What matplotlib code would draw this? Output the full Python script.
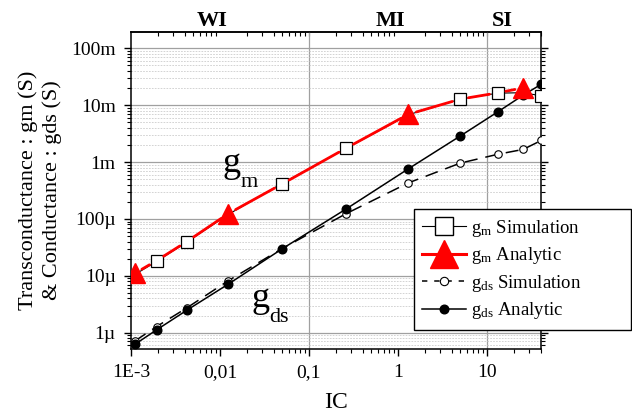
import matplotlib
matplotlib.use("Agg")
import matplotlib.pyplot as plt
from matplotlib.lines import Line2D
from matplotlib.ticker import FixedLocator, FixedFormatter, LogLocator, NullFormatter

plt.rcParams['font.family'] = ['Liberation Serif', 'DejaVu Serif']
plt.rcParams['mathtext.fontset'] = 'custom'
plt.rcParams['mathtext.rm'] = 'Liberation Serif'
plt.rcParams['mathtext.it'] = 'Liberation Serif:italic'

# Inversion coefficient sweep
IC = [0.0011, 0.00194, 0.00424, 0.0124, 0.0496, 0.262, 1.31, 5.02, 13.2, 25.5, 41.0]

# Transconductance gm (S)
gm_sim = [10.5e-6, 17.9e-6, 39.3e-6, 120e-6, 420e-6, 1.74e-3, 6.8e-3, 12.8e-3, 16.3e-3, 16.6e-3, 14.6e-3]
gm_ana = [11.0e-6, 18.5e-6, 40.0e-6, 124e-6, 410e-6, 1.76e-3, 6.93e-3, 12.8e-3, 16.5e-3, 20.2e-3]

# Output conductance gds (S)
gds_sim = [0.71e-6, 1.28e-6, 2.73e-6, 8.2e-6, 30e-6, 124e-6, 431e-6, 0.96e-3, 1.37e-3, 1.67e-3, 2.41e-3]
gds_ana = [0.62e-6, 1.12e-6, 2.48e-6, 7.14e-6, 29.6e-6, 150e-6, 762e-6, 2.88e-3, 7.62e-3, 15.0e-3, 23.5e-3]

# Axis ticks and labels
x_ticks = [1e-3, 1e-2, 1e-1, 1, 10]
x_tick_labels = ['1E-3', '0,01', '0,1', '1', '10']
y_ticks = [1e-6, 1e-5, 1e-4, 1e-3, 1e-2, 1e-1]
y_tick_labels = ['1µ', '10µ', '100µ', '1m', '10m', '100m']

# Inversion regions (weak / moderate / strong)
region_names = ['WI', 'MI', 'SI']
region_label_x = [0.0082, 0.82, 15.0]
region_bounds = [0.1, 10]

fig = plt.figure(figsize=(6.32, 4.13), dpi=100)
ax = fig.add_axes([131 / 632, 1 - 349 / 413, 410 / 632, 317 / 413])
ax.set_xscale('log')
ax.set_yscale('log')
ax.set_xlim(1e-3, 40.5)
ax.set_ylim(5.16e-7, 0.194)

# Grid
ax.yaxis.set_minor_locator(LogLocator(base=10, subs=range(2, 10), numticks=20))
ax.yaxis.set_minor_formatter(NullFormatter())
ax.grid(True, axis='y', which='major', color='#a0a0a0', lw=0.9, zorder=0)
ax.grid(True, axis='y', which='minor', color='#cccccc', lw=0.6,
        linestyle=(0, (2, 1.5)), zorder=0)
for b in region_bounds:
    ax.axvline(b, color='#a0a0a0', lw=0.9, zorder=0.5)

# Simulated points hidden under the analytic triangles carry no square
tri_idx = list(range(0, len(gm_ana), 3))
sq_idx = [i for i in range(len(IC)) if i not in tri_idx]

# gm simulation: thin black line with open squares
ax.plot(IC, gm_sim, color='black', lw=0.8, marker='s', ms=8.6,
        markevery=sq_idx, mfc='white', mec='black', mew=0.9, zorder=3)

# gm analytic: thick red segments leaving a gap around every point
for i in range(len(gm_ana) - 1):
    ax.annotate('', xy=(IC[i + 1], gm_ana[i + 1]), xytext=(IC[i], gm_ana[i]),
                xycoords='data', textcoords='data',
                arrowprops=dict(arrowstyle='-', color='red', lw=2.0,
                                shrinkA=6, shrinkB=6), zorder=3.5,
                annotation_clip=False)
ax.plot([IC[i] for i in tri_idx], [gm_ana[i] for i in tri_idx],
        linestyle='none', marker='^', ms=15, color='red', mec='red', zorder=4)

# gds simulation: dashed line with small open circles
ax.plot(IC, gds_sim, color='black', lw=1.1, linestyle=(0, (8.5, 5.2)),
        marker='o', ms=5.4, mfc='white', mec='black', mew=0.8, zorder=3)

# gds analytic: solid line with filled circles
ax.plot(IC, gds_ana, color='black', lw=1.1, marker='o', ms=6.2,
        mfc='black', mec='black', zorder=3.2)

# Ticks
ax.xaxis.set_major_locator(FixedLocator(x_ticks))
ax.xaxis.set_major_formatter(FixedFormatter(x_tick_labels))
ax.yaxis.set_major_locator(FixedLocator(y_ticks))
ax.yaxis.set_major_formatter(FixedFormatter(y_tick_labels))
ax.tick_params(axis='both', which='major', direction='out', length=5,
               width=1.0, labelsize=14, pad=6)
ax.tick_params(axis='both', which='minor', direction='out', length=3, width=0.8)
ax.tick_params(axis='y', which='both', right=True)
ax.tick_params(axis='x', which='both', top=False)
for s in ax.spines.values():
    s.set_linewidth(1.1)

sec = ax.secondary_xaxis('top')
sec.set_xticks(region_bounds)
sec.set_xticklabels([])
sec.tick_params(which='both', direction='in', length=3, width=0.8)
sec.xaxis.set_minor_formatter(NullFormatter())
sec.spines['top'].set_linewidth(1.1)

for name, xr in zip(region_names, region_label_x):
    ax.text(xr, 1.019, name, transform=ax.get_xaxis_transform(),
            ha='center', va='baseline', fontsize=16, fontweight='bold')

# Curve annotations
ax.text(0.224, 0.559, 'g', transform=ax.transAxes, fontsize=26,
        ha='left', va='baseline')
ax.text(0.267, 0.511, 'm', transform=ax.transAxes, fontsize=16,
        ha='left', va='baseline')
ax.text(0.295, 0.134, 'g', transform=ax.transAxes, fontsize=26,
        ha='left', va='baseline')
ax.text(0.338, 0.086, 'ds', transform=ax.transAxes, fontsize=16,
        ha='left', va='baseline')

# Axis titles
ax.text(0.5, -0.170, 'IC', transform=ax.transAxes, fontsize=17,
        ha='center', va='center')
ax.text((40 - 131) / 410, 0.5,
        'Transconductance : gm (S)\n& Conductance : gds (S)',
        transform=ax.transAxes, fontsize=16, rotation=90,
        ha='center', va='center', linespacing=1.3, multialignment='center')

# Legend
handles = [
    Line2D([], [], color='black', lw=0.8, marker='s', ms=13,
           mfc='white', mec='black', mew=1.0),
    Line2D([], [], color='red', lw=2.2, marker='^', ms=19.5,
           mfc='red', mec='red'),
    Line2D([], [], color='black', lw=1.1, linestyle=(0, (3.5, 4.5)),
           marker='o', ms=6, mfc='white', mec='black', mew=0.8),
    Line2D([], [], color='black', lw=1.1, marker='o', ms=6.2,
           mfc='black', mec='black'),
]
labels = [r'$\mathrm{g}_{\mathrm{m}}$ Simulation',
          r'$\mathrm{g}_{\mathrm{m}}$ Analytic',
          r'$\mathrm{g}_{\mathrm{ds}}$ Simulation',
          r'$\mathrm{g}_{\mathrm{ds}}$ Analytic']
x0 = (414 - 131) / 410
y0 = (349 - 337.3) / 317
w = (630.5 - 414) / 410
h = (337.3 - 209.3) / 317
leg = ax.legend(handles, labels, loc='upper left',
                bbox_to_anchor=(x0, y0, w, h), mode='expand',
                borderaxespad=0, fontsize=13.5, handlelength=2.3,
                handletextpad=0.3, labelspacing=0.35, borderpad=0.45,
                fancybox=False, framealpha=1, edgecolor='black')
leg.get_frame().set_linewidth(1.0)
leg.set_zorder(10)

fig.savefig('out.png', dpi=100)
